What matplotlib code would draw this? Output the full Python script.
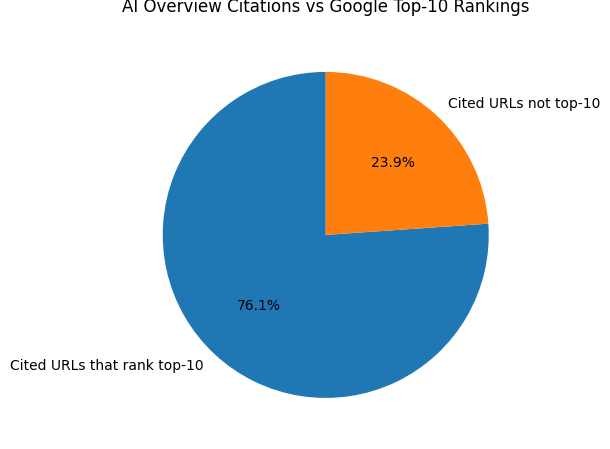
import matplotlib.pyplot as plt

labels = ['Cited URLs that rank top-10', 'Cited URLs not top-10']
shares = [76.1, 23.9]

fig = plt.figure(figsize=(6.1, 4.49), dpi=100)
ax = fig.add_axes([0.084, 0.023, 0.9, 0.9076])
ax.pie(shares, labels=labels, autopct='%1.1f%%', startangle=90)
ax.set_xlim(-1.25, 1.25)
ax.set_ylim(-1.25, 1.25)
ax.set_title('AI Overview Citations vs Google Top-10 Rankings', pad=14)
plt.savefig('out.png')
